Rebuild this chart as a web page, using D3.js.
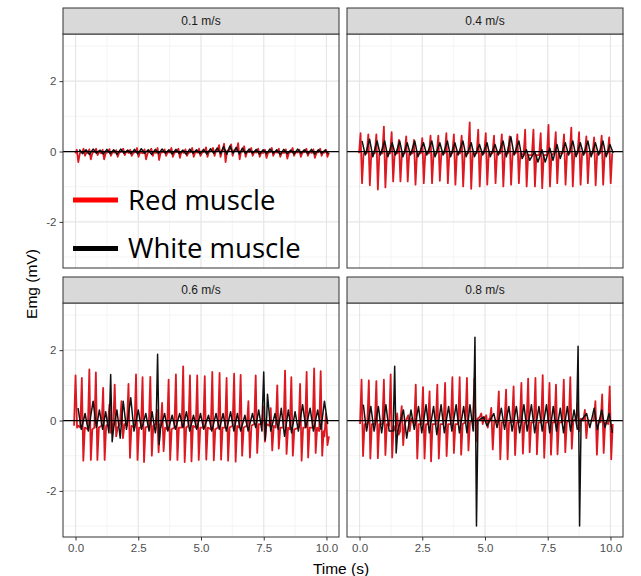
<!DOCTYPE html>
<html>
<head>
<meta charset="utf-8">
<script src="https://cdn.jsdelivr.net/npm/d3@7"></script>
<style>
  body { margin: 0; background: #fff; }
  text { font-family: "Liberation Sans", Arial, sans-serif; }
</style>
</head>
<body>
<div id="chart"></div>
<script>
// facet labels, in facet_wrap order
const speeds = ["0.1 m/s", "0.4 m/s", "0.6 m/s", "0.8 m/s"];
const xTicks = [0, 2.5, 5, 7.5, 10];
const xMinor = [1.25, 3.75, 6.25, 8.75];
const yTicks = [-2, 0, 2];
const yMinor = [-3, -1, 1, 3];
const legendLabels = ["Red muscle", "White muscle"];

// spikes: [time s, peak mV, trough mV, baseline mV]
const red01 = [[0.05,0.05,-0.30,-0.05],[0.32,0.08,-0.12,-0.02],[0.55,0.06,-0.22,-0.04],[0.82,0.08,-0.10,0.0],[1.08,0.05,-0.22,-0.05],[1.35,0.07,-0.12,-0.02],[1.62,0.04,-0.15,-0.03],[1.90,0.08,-0.10,0.0],[2.18,0.05,-0.12,-0.04],[2.45,0.10,-0.15,-0.02],[2.75,0.06,-0.22,-0.05],[3.02,0.08,-0.12,0.0],[3.27,0.10,-0.24,-0.04],[3.55,0.06,-0.12,-0.02],[3.82,0.10,-0.15,-0.03],[4.10,0.08,-0.18,-0.01],[4.38,0.06,-0.12,-0.04],[4.65,0.10,-0.15,-0.02],[4.92,0.08,-0.12,-0.03],[5.20,0.12,-0.15,0.0],[5.48,0.10,-0.12,0.02],[5.72,0.18,-0.15,0.03],[5.92,0.22,-0.30,0.02],[6.20,0.20,-0.12,0.04],[6.48,0.24,-0.22,0.02],[6.72,0.15,-0.15,0.0],[7.00,0.10,-0.12,-0.02],[7.28,0.08,-0.15,-0.03],[7.55,0.05,-0.18,-0.04],[7.82,0.10,-0.12,-0.02],[8.10,0.08,-0.15,-0.03],[8.38,0.06,-0.20,-0.04],[8.65,0.10,-0.12,-0.02],[8.92,0.05,-0.15,-0.03],[9.20,0.08,-0.12,-0.02],[9.48,0.06,-0.18,-0.04],[9.75,0.08,-0.12,-0.02],[9.98,0.05,-0.15,-0.03]];
const red04 = [[0.04,0.52,-0.90,-0.05],[0.35,0.49,-0.96,-0.05],[0.67,0.49,-1.08,-0.05],[0.97,0.71,-1.02,-0.05],[1.28,0.55,-0.85,-0.05],[1.57,0.33,-0.85,-0.05],[1.86,0.43,-0.85,-0.05],[2.17,0.33,-0.94,-0.05],[2.50,0.38,-0.90,-0.05],[2.83,0.45,-0.90,-0.05],[3.14,0.45,-0.83,-0.05],[3.46,0.52,-0.90,-0.05],[3.76,0.49,-0.94,-0.05],[4.07,0.45,-0.99,-0.05],[4.39,0.83,-1.06,-0.05],[4.73,0.62,-0.99,-0.05],[5.03,0.52,-0.94,-0.05],[5.36,0.45,-0.90,-0.05],[5.67,0.49,-0.99,-0.05],[5.98,0.43,-0.94,-0.05],[6.29,0.49,-0.90,-0.05],[6.60,0.62,-0.99,-0.1],[6.93,0.62,-0.99,-0.1],[7.22,0.52,-1.04,-0.1],[7.53,0.76,-0.99,-0.1],[7.82,0.55,-0.90,-0.05],[8.15,0.49,-0.94,-0.05],[8.44,0.68,-0.99,-0.05],[8.75,0.55,-0.94,-0.05],[9.04,0.43,-0.90,-0.05],[9.35,0.40,-0.96,-0.05],[9.65,0.45,-0.94,-0.05],[9.95,0.40,-0.90,-0.05]];
const red06 = [[0.00,1.28,-0.20,-0.15],[0.25,1.21,-1.14,-0.2],[0.55,1.45,-1.12,-0.25],[0.81,1.37,-1.12,-0.2],[1.10,0.93,-1.12,-0.15],[1.35,0.45,-0.35,-0.1],[1.56,1.02,-0.45,-0.2],[1.83,0.55,-0.50,-0.1],[2.11,1.04,-1.06,-0.15],[2.41,1.31,-1.12,-0.2],[2.67,1.23,-1.18,-0.2],[2.98,1.24,-1.00,-0.15],[3.25,0.30,-0.90,-0.1],[3.45,0.50,-0.87,-0.2],[3.71,1.16,-1.12,-0.25],[4.00,1.31,-1.12,-0.2],[4.29,1.54,-1.18,-0.2],[4.56,1.28,-1.16,-0.15],[4.85,1.28,-1.12,-0.2],[5.15,1.26,-1.11,-0.2],[5.45,1.38,-1.13,-0.25],[5.74,1.35,-1.11,-0.2],[6.02,1.21,-1.14,-0.2],[6.32,1.33,-1.17,-0.15],[6.58,1.30,-1.00,-0.2],[6.89,0.55,-1.05,-0.15],[7.18,1.28,-0.92,-0.1],[7.49,0.40,-0.60,-0.1],[7.78,0.35,-0.85,-0.15],[8.04,1.00,-0.80,-0.2],[8.35,1.42,-0.95,-0.2],[8.60,1.23,-1.00,-0.25],[8.95,1.04,-1.14,-0.2],[9.21,1.38,-1.05,-0.2],[9.51,1.48,-0.92,-0.2],[9.77,1.40,-1.00,-0.3],[9.98,0.20,-0.70,-0.45]];
const red08 = [[0.08,1.16,-1.01,-0.1],[0.37,1.14,-1.08,-0.1],[0.67,1.12,-1.07,-0.1],[0.97,1.16,-0.98,-0.1],[1.24,1.31,-1.05,-0.15],[1.50,0.20,-0.40,-0.3],[1.68,0.41,-0.70,-0.1],[1.94,0.15,-0.30,0.05],[2.24,1.02,-1.08,-0.1],[2.53,0.95,-1.08,-0.1],[2.79,0.83,-1.16,-0.1],[3.10,1.02,-1.08,-0.1],[3.41,1.07,-1.01,-0.1],[3.70,1.23,-0.92,-0.1],[3.99,1.23,-0.97,-0.1],[4.28,1.21,-0.85,-0.05],[4.58,1.20,-0.60,0.05],[4.85,0.20,-0.10,0.1],[5.05,0.15,-0.20,0.05],[5.25,0.36,-0.82,0.0],[5.55,0.83,-1.10,-0.05],[5.84,0.88,-1.10,-0.05],[6.14,0.97,-0.98,-0.05],[6.45,1.07,-0.94,-0.05],[6.72,1.19,-0.90,-0.05],[7.01,1.21,-0.96,-0.05],[7.30,1.29,-1.06,-0.05],[7.57,1.07,-0.97,-0.05],[7.83,1.02,-0.96,-0.05],[8.14,1.16,-0.90,-0.05],[8.40,1.23,-0.80,0.0],[8.70,0.50,-0.30,0.05],[8.98,0.30,-0.50,0.0],[9.40,0.55,-0.97,0.0],[9.67,0.74,-0.92,-0.05],[9.97,0.97,-1.10,-0.1]];

// white muscle: [time, high, low] wiggles, plus a baseline for the big spikes
const black01 = [[0.15,0.06,-0.06],[0.42,0.05,-0.08],[0.70,0.07,-0.05],[0.98,0.04,-0.07],[1.25,0.06,-0.06],[1.52,0.05,-0.08],[1.80,0.07,-0.05],[2.08,0.04,-0.06],[2.35,0.06,-0.07],[2.62,0.08,-0.05],[2.90,0.05,-0.08],[3.18,0.06,-0.06],[3.45,0.07,-0.05],[3.72,0.05,-0.07],[4.00,0.06,-0.06],[4.28,0.04,-0.08],[4.55,0.07,-0.05],[4.82,0.05,-0.06],[5.10,0.06,-0.07],[5.38,0.08,-0.05],[5.65,0.10,-0.06],[5.90,0.14,-0.08],[6.15,0.16,-0.05],[6.40,0.12,-0.07],[6.65,0.10,-0.06],[6.92,0.07,-0.05],[7.20,0.06,-0.07],[7.48,0.05,-0.06],[7.75,0.07,-0.05],[8.02,0.05,-0.08],[8.30,0.06,-0.06],[8.58,0.04,-0.07],[8.85,0.07,-0.05],[9.12,0.05,-0.06],[9.40,0.06,-0.07],[9.68,0.05,-0.05],[9.95,0.04,-0.06]];
const black04 = [[0.10,0.30,-0.10],[0.40,0.35,-0.15],[0.70,0.30,-0.10],[1.00,0.30,-0.15],[1.30,0.25,-0.10],[1.60,0.30,-0.15],[1.90,0.25,-0.10],[2.20,0.30,-0.15],[2.55,0.25,-0.10],[2.88,0.30,-0.15],[3.20,0.25,-0.10],[3.50,0.30,-0.15],[3.80,0.25,-0.10],[4.12,0.30,-0.15],[4.45,0.25,-0.15],[4.78,0.20,-0.10],[5.08,0.25,-0.15],[5.40,0.20,-0.10],[5.72,0.30,-0.15],[6.03,0.42,-0.10],[6.35,0.30,-0.20],[6.65,0.05,-0.25],[6.98,0.00,-0.30],[7.27,0.05,-0.30],[7.58,0.10,-0.25],[7.87,0.20,-0.20],[8.20,0.25,-0.10],[8.50,0.30,-0.15],[8.80,0.25,-0.10],[9.10,0.30,-0.15],[9.40,0.25,-0.10],[9.70,0.30,-0.15],[9.98,0.20,-0.05]];
const black06 = [[0.10,0.35,-0.25],[0.38,0.20,-0.30],[0.70,0.55,-0.20],[0.95,0.30,-0.25],[1.20,0.25,-0.35],[1.40,1.31,-0.60,-0.2],[1.65,0.30,-0.50],[1.90,0.55,-0.25],[2.20,0.65,-0.30],[2.50,0.30,-0.25],[2.80,0.20,-0.30],[3.05,0.25,-0.35],[3.27,1.88,-0.68,-0.2],[3.55,0.20,-0.30],[3.85,0.15,-0.25],[4.15,0.20,-0.20],[4.42,0.25,-0.30],[4.70,0.15,-0.25],[4.98,0.20,-0.25],[5.30,0.15,-0.30],[5.60,0.20,-0.25],[5.88,0.20,-0.30],[6.18,0.25,-0.30],[6.45,0.20,-0.30],[6.75,0.15,-0.30],[7.05,0.20,-0.20],[7.30,0.30,-0.30],[7.50,1.38,-0.55,0.1],[7.65,0.75,-0.30],[7.95,0.20,-0.25],[8.20,0.35,-0.45],[8.48,0.30,-0.35],[8.75,0.25,-0.30],[9.05,0.45,-0.20],[9.35,0.35,-0.30],[9.65,0.30,-0.25],[9.92,0.55,-0.10]];
const black08 = [[0.15,0.45,-0.30],[0.45,0.40,-0.30],[0.75,0.40,-0.35],[1.05,0.45,-0.30],[1.40,1.54,-0.92,-0.3],[1.75,0.30,-0.50],[2.05,0.30,-0.25],[2.35,0.40,-0.35],[2.65,0.45,-0.35],[2.95,0.40,-0.40],[3.25,0.45,-0.35],[3.55,0.40,-0.30],[3.85,0.45,-0.35],[4.15,0.40,-0.35],[4.40,0.45,-0.30],[4.60,2.37,-3.00,0.0],[4.95,0.10,-0.15],[5.35,0.20,-0.20],[5.65,0.35,-0.25],[5.95,0.40,-0.30],[6.25,0.40,-0.35],[6.55,0.45,-0.30],[6.85,0.45,-0.35],[7.15,0.40,-0.30],[7.45,0.45,-0.35],[7.72,0.40,-0.30],[8.00,0.35,-0.35],[8.28,0.40,-0.30],[8.55,0.30,-0.25],[8.71,2.11,-3.00,0.0],[9.05,0.20,-0.20],[9.35,0.35,-0.25],[9.65,0.30,-0.20],[9.95,0.20,-0.35]];

const redSeries = [red01, red04, red06, red08];
const blackSeries = [black01, black04, black06, black08];

const width = 641, height = 576;
const plotLeft = 63, plotTop = 8, panelW = 276, panelH = 234, stripH = 26, gapX = 8, gapY = 9;
const spikeW = 0.06, wiggleW = 0.13;
const redColor = "#dc1820", blackColor = "#111";

const svg = d3.select("#chart").append("svg")
  .attr("width", width).attr("height", height)
  .attr("viewBox", [0, 0, width, height]);

const x = d3.scaleLinear().domain([-0.5, 10.5]).range([0, panelW]);
const y = d3.scaleLinear().domain([-3.31, 3.34]).range([panelH, 0]);
const line = d3.line().x(d => x(d[0])).y(d => y(d[1]));

// turn spike rows into a polyline
function spikePoints(rows, w) {
  return rows.flatMap(([t, hi, lo, rest]) => rest === undefined
    ? [[t, hi], [t + w, lo]]
    : [[t - spikeW, rest], [t, hi], [t + spikeW, lo], [t + 2 * spikeW, rest]]);
}

speeds.forEach((label, i) => {
  const col = i % 2, row = Math.floor(i / 2);
  const px = plotLeft + col * (panelW + gapX);
  const py = plotTop + row * (stripH + panelH + gapY);
  const g = svg.append("g").attr("transform", `translate(${px},${py + stripH})`);

  // strip
  svg.append("rect").attr("x", px).attr("y", py).attr("width", panelW).attr("height", stripH)
    .attr("fill", "#d9d9d9").attr("stroke", "#333").attr("stroke-width", 1);
  svg.append("text").attr("x", px + panelW / 2).attr("y", py + stripH / 2 + 4)
    .attr("text-anchor", "middle").attr("font-size", 12).attr("fill", "#1a1a1a").text(label);

  // grid
  g.selectAll(".vminor").data(xMinor).join("line")
    .attr("x1", d => x(d)).attr("x2", d => x(d)).attr("y1", 0).attr("y2", panelH)
    .attr("stroke", "#f0f0f0").attr("stroke-width", 0.7);
  g.selectAll(".hminor").data(yMinor).join("line")
    .attr("y1", d => y(d)).attr("y2", d => y(d)).attr("x1", 0).attr("x2", panelW)
    .attr("stroke", "#f0f0f0").attr("stroke-width", 0.7);
  g.selectAll(".vmajor").data(xTicks).join("line")
    .attr("x1", d => x(d)).attr("x2", d => x(d)).attr("y1", 0).attr("y2", panelH)
    .attr("stroke", "#e6e6e6").attr("stroke-width", 1.2);
  g.selectAll(".hmajor").data(yTicks).join("line")
    .attr("y1", d => y(d)).attr("y2", d => y(d)).attr("x1", 0).attr("x2", panelW)
    .attr("stroke", "#e6e6e6").attr("stroke-width", 1.2);

  // traces
  g.append("path").attr("d", line(spikePoints(redSeries[i], spikeW)))
    .attr("fill", "none").attr("stroke", redColor).attr("stroke-width", 1.8).attr("stroke-linejoin", "round");
  g.append("path").attr("d", line(spikePoints(blackSeries[i], wiggleW)))
    .attr("fill", "none").attr("stroke", blackColor).attr("stroke-width", 1.5).attr("stroke-linejoin", "round");

  // zero line
  g.append("line").attr("x1", 0).attr("x2", panelW).attr("y1", y(0)).attr("y2", y(0))
    .attr("stroke", "#000").attr("stroke-width", 1.2);

  // border
  g.append("rect").attr("width", panelW).attr("height", panelH)
    .attr("fill", "none").attr("stroke", "#333").attr("stroke-width", 1);

  if (col === 0) {
    const ax = g.append("g").call(d3.axisLeft(y).tickValues(yTicks).tickSize(3.5).tickPadding(3).tickFormat(d => String(d)));
    ax.select(".domain").remove();
    ax.selectAll("line").attr("stroke", "#333");
    ax.selectAll("text").attr("font-size", 11.5).attr("fill", "#4d4d4d").attr("font-family", null);
  }
  if (row === 1) {
    const ax = g.append("g").attr("transform", `translate(0,${panelH})`)
      .call(d3.axisBottom(x).tickValues(xTicks).tickSize(3.5).tickPadding(3).tickFormat(d3.format(".1f")));
    ax.select(".domain").remove();
    ax.selectAll("line").attr("stroke", "#333");
    ax.selectAll("text").attr("font-size", 11.5).attr("fill", "#4d4d4d").attr("font-family", null);
  }
});

// axis titles
svg.append("text").attr("x", 341).attr("y", 574).attr("text-anchor", "middle")
  .attr("font-size", 15.5).attr("fill", "#000").text("Time (s)");
svg.append("text").attr("transform", "translate(37,284) rotate(-90)").attr("text-anchor", "middle")
  .attr("font-size", 15.5).attr("fill", "#000").text("Emg (mV)");

// legend laid over the first panel
const legend = svg.append("g");
const legendColors = ["#ff0000", "#000"];
legendLabels.forEach((lab, i) => {
  const ly = 200 + i * 48.5;
  legend.append("line").attr("x1", 73).attr("x2", 118).attr("y1", ly).attr("y2", ly)
    .attr("stroke", legendColors[i]).attr("stroke-width", 5);
  legend.append("text").attr("x", 128).attr("y", ly + 9.5)
    .style("font-family", "'Open Sans', sans-serif").attr("font-size", 27.5).attr("fill", "#000").text(lab);
});
</script>
</body>
</html>
